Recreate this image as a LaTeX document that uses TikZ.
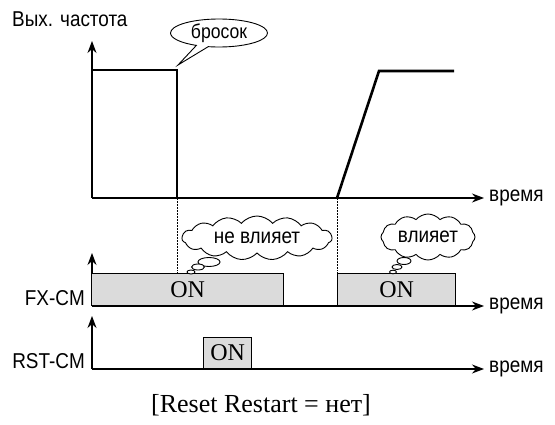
\documentclass[tikz,border=0pt]{standalone}
\usepackage{fontspec}
\setmainfont{Liberation Serif}
\setsansfont{Liberation Sans}[FakeStretch=0.88]
\usetikzlibrary{arrows.meta,shapes.symbols,shapes.callouts}

\tikzset{
  axisline/.style={line width=1.3pt, -{Stealth[length=12pt,width=9pt]}},
  sigline/.style={line width=2.6pt},
  onbox/.style={draw, line width=1.2pt, fill=gray!28, anchor=south west,
    inner sep=0pt, font=\fontsize{24}{27}\selectfont},
  sanslbl/.style={font=\sffamily\fontsize{21.5}{24}\selectfont, inner sep=1pt},
  thought/.style={cloud, draw, line width=0.9pt, cloud puffs=15, cloud puff arc=100,
    cloud ignores aspect, inner sep=0pt, font=\sffamily\fontsize{21.5}{24}\selectfont},
  bubble/.style={draw, line width=0.9pt, fill=white}
}

\begin{document}
\begin{tikzpicture}[x=1pt,y=-1pt]
    \useasboundingbox (0,0) rectangle (555,425);

    % опорные точки осей
    \coordinate (o1) at (92,198);
    \coordinate (o2) at (92,306);
    \coordinate (o3) at (92,369);

    % выходная частота
    \draw[axisline] (o1) -- (92,41) coordinate (y1);
    \draw[axisline] (o1) -- (484,198) coordinate (t1);
    \node[sanslbl, anchor=west] (lblfreq) at (11,19) {Вых. частота};
    \node[sanslbl, anchor=west] (lbltime1) at (488,198) {время};
    \draw[sigline] (92,70) -- (177,70) -- (177,198);
    \draw[sigline] (337,198) -- (379,71) -- (454,71);

    % бросок
    \node[ellipse callout, draw, line width=0.9pt, minimum width=97pt, minimum height=28pt,
      inner sep=0pt, callout absolute pointer={(178,65)},
      font=\sffamily\fontsize{20}{23}\selectfont] (coast) at (219,33) {бросок};

    % вертикальные пунктиры
    \draw[densely dotted, line width=0.5pt] (177,198) -- (177,274);
    \draw[densely dotted, line width=0.5pt] (337,198) -- (337,274);

    % FX-CM
    \draw[axisline] (o2) -- (92,253);
    \draw[axisline] (o2) -- (484,306) coordinate (t2);
    \node[onbox, minimum width=192pt, minimum height=32pt] (fxon1) at (91,306) {ON};
    \node[onbox, minimum width=118pt, minimum height=32pt] (fxon2) at (337,306) {ON};
    \node[sanslbl, anchor=east] (lblfx) at (86,298) {FX-CM};
    \node[sanslbl, anchor=west] (lbltime2) at (488,306) {время};

    % RST-CM
    \draw[axisline] (o3) -- (92,316);
    \draw[axisline] (o3) -- (484,369) coordinate (t3);
    \node[onbox, minimum width=48pt, minimum height=31pt] (rston) at (203,369) {ON};
    \node[sanslbl, anchor=east] (lblrst) at (86,361) {RST-CM};
    \node[sanslbl, anchor=west] (lbltime3) at (488,369) {время};

    % облака
    \node[thought, minimum width=150pt, minimum height=44pt] (noeff) at (257,238) {не влияет};
    \draw[bubble] (209,262) ellipse (11pt and 4.5pt);
    \draw[bubble] (198,267) ellipse (6.5pt and 3pt);
    \draw[bubble] (191,272) ellipse (4pt and 2pt);

    \node[thought, minimum width=94pt, minimum height=46pt, cloud puffs=12] (eff) at (428,237) {влияет};
    \draw[bubble] (404,261) ellipse (7pt and 3.5pt);
    \draw[bubble] (397,267) ellipse (5pt and 2.5pt);
    \draw[bubble] (393,272) ellipse (3.5pt and 1.8pt);

    % подпись
    \node[font=\fontsize{26}{29}\selectfont] (caption) at (261,405) {[Reset Restart = нет]};
\end{tikzpicture}
\end{document}
